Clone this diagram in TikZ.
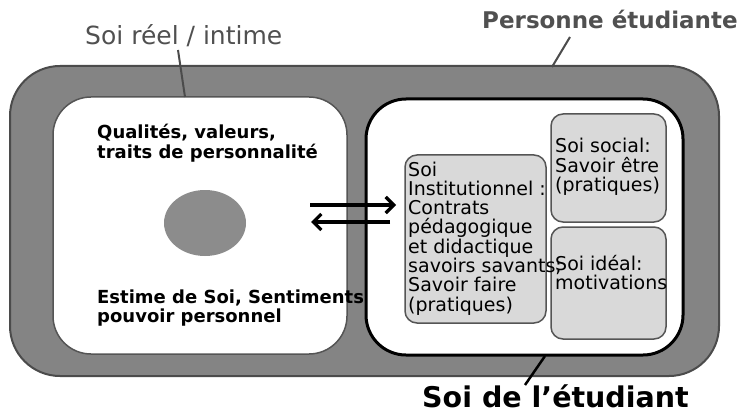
\documentclass[tikz,border=0pt]{standalone}
\usepackage{fontspec}
\setmainfont{DejaVu Sans}
\usetikzlibrary{arrows.meta,shapes.geometric}
\definecolor{ringfill}{RGB}{132,132,132}
\definecolor{ringline}{RGB}{75,75,75}
\definecolor{boxline}{RGB}{85,85,85}
\definecolor{innerfill}{RGB}{217,217,217}
\definecolor{dotfill}{RGB}{140,140,140}
\definecolor{labelgray}{RGB}{80,80,80}
\newcommand{\mlines}[1]{\vtop{\lineskiplimit=-50pt\relax\halign{##\hfil\cr#1\crcr}}}
\tikzset{
  ring/.style={draw=ringline, line width=2pt, fill=ringfill, rounded corners=50pt, inner sep=0pt},
  whitebox/.style={fill=white, rounded corners=38pt, inner sep=0pt},
  innerbox/.style={draw=boxline, line width=1.5pt, fill=innerfill, rounded corners=12pt, inner sep=0pt},
  boxtext/.style={anchor=base west, inner sep=0pt, font=\fontsize{19}{19.3}\selectfont},
  lefttext/.style={anchor=base west, inner sep=0pt, font=\bfseries\fontsize{18}{19.5}\selectfont},
  leader/.style={line width=2pt},
  flow/.style={line width=3.2pt, -{Straight Barb[length=8pt,width=16pt]}}
}
\begin{document}
\begin{tikzpicture}[x=1pt,y=-1pt]
\useasboundingbox (0,0) rectangle (746,414);
% containers
\node[ring, minimum width=709pt, minimum height=310pt] (outer) at (364.5,221) {};
\node[whitebox, draw=boxline, line width=1.5pt, minimum width=294pt, minimum height=257pt] (leftbox) at (200,225.5) {};
\node[whitebox, draw=black, line width=3pt, rounded corners=40pt, minimum width=317pt, minimum height=256pt] (rightbox) at (524.5,227) {};
\node[innerbox, minimum width=141pt, minimum height=168pt] (inst) at (475.5,239) {};
\node[innerbox, minimum width=115pt, minimum height=108pt] (social) at (608.5,168) {};
\node[innerbox, minimum width=115pt, minimum height=112pt] (ideal) at (608.5,283) {};
\node[ellipse, fill=dotfill, minimum width=82pt, minimum height=66pt, inner sep=0pt] (dot) at (205,223) {};
% texts
\node[lefttext] (qual) at (97,139) {\mlines{Qualités, valeurs,\cr traits de personnalité}};
\node[lefttext] (estime) at (97,303) {\mlines{Estime de Soi, Sentiments\cr pouvoir personnel}};
\node[boxtext] (insttext) at (408,176) {\mlines{Soi\cr Institutionnel :\cr Contrats\cr pédagogique\cr et didactique\cr savoirs savants;\cr Savoir faire\cr (pratiques)}};
\node[boxtext] (socialtext) at (555,153) {\mlines{Soi social:\cr Savoir être\cr (pratiques)}};
\node[boxtext] (idealtext) at (555,270) {\mlines{Soi idéal:\cr motivations}};
% labels
\node[anchor=base west, inner sep=0pt, text=labelgray, font=\fontsize{25}{28}\selectfont] (lreel) at (85,45) {Soi réel / intime};
\node[anchor=base west, inner sep=0pt, text=labelgray, font=\bfseries\fontsize{23}{26}\selectfont] (lpers) at (482,29) {Personne étudiante};
\node[anchor=base west, inner sep=0pt, text=black, font=\bfseries\fontsize{28.5}{30}\selectfont] (letud) at (422,407) {Soi de l’étudiant};
% leader lines
\coordinate (reelA) at (178,50);
\coordinate (reelB) at (185,97);
\coordinate (persA) at (570,37);
\coordinate (persB) at (552,67);
\coordinate (etudA) at (525,385);
\coordinate (etudB) at (545,356);
\draw[leader, draw=ringline] (reelA) -- (reelB);
\draw[leader, draw=ringline] (persA) -- (persB);
\draw[leader, line width=2.5pt, draw=black] (etudA) -- (etudB);
% arrows
\coordinate (a1s) at (310,205);
\coordinate (a1e) at (396,205);
\coordinate (a2s) at (390,222);
\coordinate (a2e) at (311,222);
\draw[flow] (a1s) -- (a1e);
\draw[flow] (a2s) -- (a2e);
\end{tikzpicture}
\end{document}
